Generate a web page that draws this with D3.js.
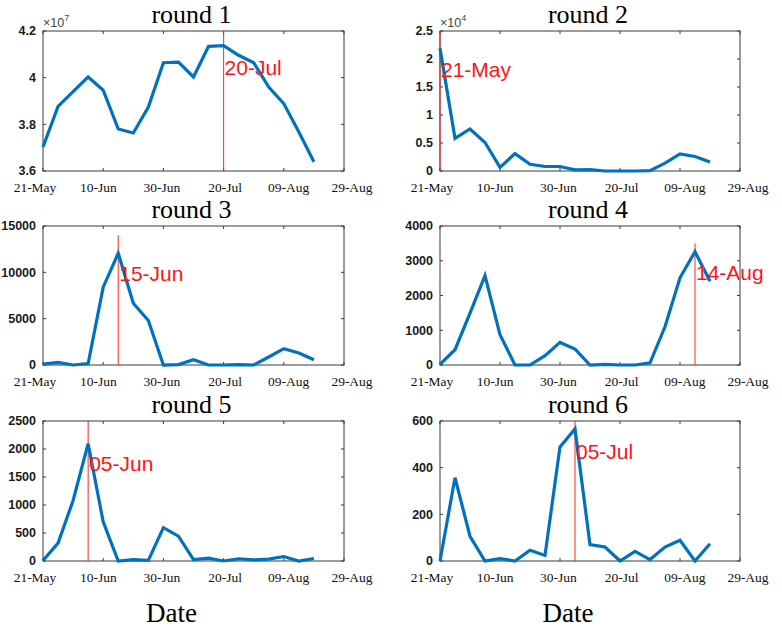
<!DOCTYPE html>
<html>
<head>
<meta charset="utf-8">
<script src="https://cdn.jsdelivr.net/npm/d3@7"></script>
<style>
  body { margin: 0; background: #fff; }
  svg { display: block; }
</style>
</head>
<body>
<svg id="chart"></svg>
<script>
// sampling dates (every 5 days)
const dates = ["21-May", "26-May", "31-May", "05-Jun", "10-Jun", "15-Jun", "20-Jun", "25-Jun",
  "30-Jun", "05-Jul", "10-Jul", "15-Jul", "20-Jul", "25-Jul", "30-Jul", "04-Aug", "09-Aug",
  "14-Aug", "19-Aug"];
const xTickDates = ["21-May", "10-Jun", "30-Jun", "20-Jul", "09-Aug", "29-Aug"];
const xDomain = ["21-May", "29-Aug"];

const round1 = [37030000, 38770000, 39400000, 40030000, 39460000, 37800000, 37630000, 38740000,
  40640000, 40670000, 40030000, 41340000, 41370000, 40960000, 40640000, 39600000, 38890000,
  37670000, 36400000];
const round2 = [21900, 5840, 7500, 5100, 650, 3100, 1200, 800, 800, 200, 250, 0, 0, 0, 50,
  1400, 3050, 2600, 1600];
const round3 = [100, 290, 0, 150, 8400, 12060, 6670, 4800, 0, 50, 570, 0, 0, 30, 0, 860, 1760,
  1300, 570];
const round4 = [20, 440, 1490, 2570, 870, 0, 0, 270, 650, 460, 0, 20, 0, 0, 60, 1100, 2510,
  3260, 2410];
const round5 = [10, 320, 1080, 2095, 700, 0, 25, 10, 595, 445, 25, 50, 0, 40, 20, 35, 80, 0, 45];
const round6 = [0, 357, 106, 0, 10, 0, 46, 24, 489, 566, 70, 60, 0, 41, 6, 60, 89, 0, 74];

const titles = ["round 1", "round 2", "round 3", "round 4", "round 5", "round 6"];
const series = [round1, round2, round3, round4, round5, round6];
const yDomains = [[36000000, 42000000], [0, 25000], [0, 15000], [0, 4000], [0, 2500], [0, 600]];
const yTicks = [
  [36000000, 38000000, 40000000, 42000000],
  [0, 5000, 10000, 15000, 20000, 25000],
  [0, 5000, 10000, 15000],
  [0, 1000, 2000, 3000, 4000],
  [0, 500, 1000, 1500, 2000, 2500],
  [0, 200, 400, 600]
];
const yExponent = [7, 4, 0, 0, 0, 0];

// red marker: date, top of the line, label anchor value
const peakDates = ["20-Jul", "21-May", "15-Jun", "14-Aug", "05-Jun", "05-Jul"];
const peakLineTop = [42000000, 25000, 14000, 3500, 2500, 600];
const peakLabelY = [40100000, 16700, 9100, 2440, 1600, 436];

const W = 782, H = 628;
const colL = [43, 440], colR = [344, 740];
const rowT = [31, 226, 421], rowB = [171, 365, 561];

const parse = d3.timeParse("%d-%b");
const fmtDate = d3.timeFormat("%d-%b");
const BLUE = "#0072bd", RED = "#ff1414", AX = "#3a3a3a";
const SERIF = "'Liberation Serif','Times New Roman',serif";
const SANS = "'Liberation Sans',Arial,Helvetica,sans-serif";

const svg = d3.select("#chart").attr("width", W).attr("height", H);

series.forEach((vals, i) => {
  const col = i % 2, row = Math.floor(i / 2);
  const L = colL[col], R = colR[col], T = rowT[row], B = rowB[row];

  const x = d3.scaleTime().domain(xDomain.map(parse)).range([L, R]);
  // labels on the reference sit a little wider than the ticks
  const xl = d3.scaleTime().domain(xDomain.map(parse)).range([L - 8, R + 8]);
  const y = d3.scaleLinear().domain(yDomains[i]).range([B, T]);
  const g = svg.append("g");

  // title
  g.append("text")
    .attr("x", (L + R) / 2 - 2).attr("y", T - 8)
    .attr("text-anchor", "middle")
    .style("font-family", SERIF).style("font-size", "26px").style("fill", "#000")
    .text(titles[i]);

  // box
  g.append("rect")
    .attr("x", L).attr("y", T).attr("width", R - L).attr("height", B - T)
    .attr("fill", "none").attr("stroke", AX).attr("stroke-width", 1);

  // x ticks (inward, bottom and top) + labels
  const xt = xTickDates.map(parse);
  g.selectAll(".xtb").data(xt).join("line")
    .attr("x1", d => x(d)).attr("x2", d => x(d)).attr("y1", B).attr("y2", B - 3)
    .attr("stroke", AX);
  g.selectAll(".xtt").data(xt).join("line")
    .attr("x1", d => x(d)).attr("x2", d => x(d)).attr("y1", T).attr("y2", T + 3)
    .attr("stroke", AX);
  g.selectAll(".xlab").data(xt).join("text")
    .attr("x", d => xl(d)).attr("y", B + 21)
    .attr("text-anchor", "middle")
    .style("font-family", SERIF).style("font-size", "13.5px").style("fill", "#111")
    .text(d => fmtDate(d));

  // y ticks + labels
  const sc = Math.pow(10, yExponent[i]);
  g.selectAll(".ytl").data(yTicks[i]).join("line")
    .attr("x1", L).attr("x2", L + 3).attr("y1", d => y(d)).attr("y2", d => y(d))
    .attr("stroke", AX);
  g.selectAll(".ytr").data(yTicks[i]).join("line")
    .attr("x1", R).attr("x2", R - 3).attr("y1", d => y(d)).attr("y2", d => y(d))
    .attr("stroke", AX);
  g.selectAll(".ylab").data(yTicks[i]).join("text")
    .attr("x", L - 7).attr("y", d => y(d)).attr("dy", "0.35em")
    .attr("text-anchor", "end")
    .style("font-family", SANS).style("font-size", "12.5px").style("font-weight", "bold")
    .style("fill", "#1a1a1a")
    .text(d => String(+(d / sc).toFixed(2)));

  if (yExponent[i]) {
    const ex = g.append("text")
      .attr("x", L).attr("y", T - 4)
      .style("font-family", SANS).style("font-size", "12.5px").style("fill", "#444");
    ex.append("tspan").text("\u00d710");
    ex.append("tspan").attr("dy", "-6").style("font-size", "9px").text(yExponent[i]);
  }

  // marker line
  const pd = parse(peakDates[i]);
  g.append("line")
    .attr("x1", x(pd)).attr("x2", x(pd))
    .attr("y1", y(yDomains[i][0])).attr("y2", y(peakLineTop[i]))
    .attr("stroke", RED).attr("stroke-width", 1.1).attr("stroke-opacity", 0.85);

  // series line
  g.append("path").datum(vals)
    .attr("d", d3.line().x((d, k) => x(parse(dates[k]))).y(d => y(d)))
    .attr("fill", "none").attr("stroke", BLUE).attr("stroke-width", 3.2)
    .attr("stroke-linejoin", "miter");

  // marker label
  g.append("text")
    .attr("x", x(pd) + 1).attr("y", y(peakLabelY[i]))
    .style("font-family", SANS).style("font-size", "21px").style("fill", RED)
    .text(peakDates[i]);

  if (row === 2) {
    g.append("text")
      .attr("x", (L + R) / 2 - 22).attr("y", 622)
      .attr("text-anchor", "middle")
      .style("font-family", SERIF).style("font-size", "27px").style("fill", "#000")
      .text("Date");
  }
});
</script>
</body>
</html>
